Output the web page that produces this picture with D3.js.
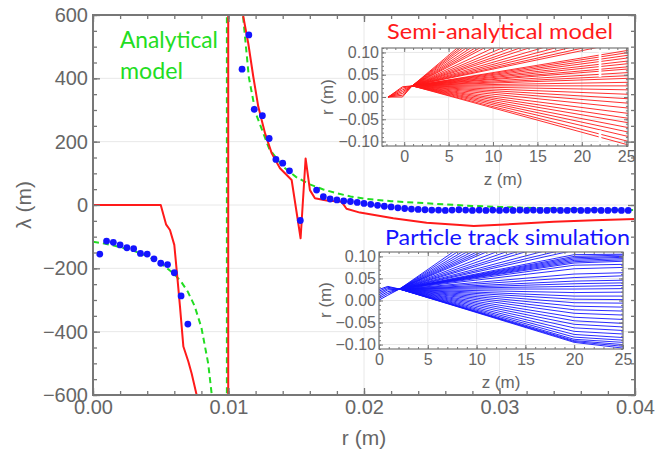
<!DOCTYPE html>
<html>
<head>
<meta charset="utf-8">
<script src="https://cdn.jsdelivr.net/npm/d3@7"></script>
<style>
body { margin: 0; background: #fff; }
svg text { font-family: "Liberation Sans", Arial, sans-serif; }
</style>
</head>
<body>
<div id="chart"></div>
<script>
// ---- main plot data (r in m, lambda in m) ----
var xTicks = [0, 0.01, 0.02, 0.03, 0.04];
var yTicks = [-600, -400, -200, 0, 200, 400, 600];

// semi-analytical model (red)
var redR = [0, 0.005, 0.00539, 0.00568, 0.0060, 0.00622, 0.00642, 0.00667, 0.00704, 0.00728, 0.00765, 0.0085, 0.00998,
  0.00998, 0.0109, 0.01107, 0.01146, 0.01183, 0.0122, 0.0127, 0.01319, 0.0138, 0.01466, 0.01532, 0.01569, 0.01601,
  0.01638, 0.01724, 0.01835, 0.01871, 0.0197, 0.02216, 0.02462, 0.02708, 0.0281, 0.031, 0.034, 0.037, 0.04];
var redLambda = [0, 0, -61, -79, -126, -226, -321, -447, -495, -532, -600, -850, -3000,
  3000, 900, 600, 510, 405, 310, 226, 163, 116, 79, -105, 147, 47,
  21, 14, 10, -12, -24, -42, -56, -63, -66, -60, -53, -48, -44];

// analytical model (green dashed)
var greenR = [0, 0.001, 0.002, 0.003, 0.004, 0.005, 0.006, 0.0065, 0.007, 0.0075, 0.008, 0.0085, 0.0088, 0.009, 0.0095, 0.00988,
  0.00988, 0.0105, 0.011, 0.0115, 0.012, 0.013, 0.014, 0.015, 0.016, 0.017, 0.018, 0.019, 0.02, 0.022, 0.024, 0.026,
  0.028, 0.03, 0.033, 0.036, 0.04];
var greenLambda = [-116, -123, -133, -145, -161, -184, -218, -242, -274, -319, -387, -500, -613, -726, -1400, -3000,
  3000, 1300, 630, 404, 291, 178, 122, 88, 65, 49, 37, 27, 20, 12, 7, 2,
  -3, -6, -10, -13, -16];

// particle track simulation (blue dots)
var dotR = [0.0005, 0.001, 0.0015, 0.002, 0.0025, 0.003, 0.0035, 0.004, 0.0045, 0.005, 0.0055, 0.006, 0.0065, 0.007,
  0.011, 0.0115, 0.0119, 0.0125, 0.013, 0.0135, 0.014, 0.0145, 0.0153, 0.0165, 0.017, 0.0175, 0.018,
  0.0185, 0.019, 0.0195, 0.02, 0.0205, 0.021, 0.0215, 0.022, 0.0225, 0.023, 0.0235, 0.024, 0.0245, 0.025,
  0.0255, 0.026, 0.0265, 0.027, 0.0275, 0.028, 0.0285, 0.029, 0.0295, 0.03, 0.0305, 0.031, 0.0315, 0.032,
  0.0325, 0.033, 0.0335, 0.034, 0.0345, 0.035, 0.0355, 0.036, 0.0365, 0.037, 0.0375, 0.038, 0.0385, 0.039, 0.0395];
var dotLambda = [-155, -114, -118, -126, -135, -138, -153, -155, -170, -184, -188, -214, -287, -376,
  429, 537, 302, 282, 210, 144, 132, 108, -49, 47, 26, 19, 16,
  13, 11, 8, 5, 2, -1, -4, -6, -9, -11, -13, -14, -15, -16,
  -16, -17, -16, -15, -16, -17, -16, -17, -16, -17, -16, -17, -16, -17,
  -16, -17, -17, -16, -17, -17, -16, -17, -17, -16, -17, -17, -16, -17, -17];

// ---- inset data (z in m, r in m) ----
var insetZTicks = [0, 5, 10, 15, 20, 25];
var insetRTicks = [-0.1, -0.05, 0, 0.05, 0.1];

// semi-analytical tracks: entry, focus, end r at z = 25.3
var semiStart = [-1.8, 0];
var semiEntryZ = -0.2;
var semiEntry = [0, 0.004, 0.008, 0.012, 0.016, 0.020, 0.023];
var semiFocus = [0.9, 0.025];
var semiEndZ = 25.3;
var semiEnd = [0.434, 0.411, 0.390, 0.366, 0.340, 0.318, 0.298, 0.281, 0.253, 0.230, 0.212, 0.196, 0.183, 0.167,
  0.154, 0.143, 0.133, 0.126, 0.105, 0.100, 0.094, 0.088, 0.081, 0.075, 0.068, 0.063, 0.055, 0.048, 0.042,
  0.033, 0.025, 0.016, 0.006, -0.004, -0.014, -0.025, -0.037, -0.048, -0.058, -0.069, -0.079, -0.089, -0.100, -0.108];
var semiGapZ = [21.9, 22.2];
var semiGapR = [[0.045, 0.12], [-0.12, -0.075]];

// particle tracks: entry r at z=0, r at z=0.9, focus, r at z=20 and z=25
var blueEntry = [0.001, 0.005, 0.009, 0.013, 0.017, 0.021, 0.025];
var blueMid = [0.012, 0.016, 0.020, 0.024, 0.027, 0.030, 0.032];
var blueFocus = [2.1, 0.026];
var blueR20 = [0.30, 0.28, 0.26, 0.244, 0.229, 0.216, 0.205, 0.195, 0.178, 0.164, 0.152, 0.143, 0.130, 0.121, 0.114,
  0.104, 0.1, 0.097, 0.094, 0.091, 0.088, 0.085, 0.08,
  0.072, 0.06, 0.052, 0.044, 0.038, 0.032, 0.026, 0.018, 0.01, 0.003, -0.005, -0.013, -0.021, -0.029, -0.038,
  -0.046, -0.054, -0.062, -0.07, -0.077, -0.083, -0.088, -0.091, -0.093, -0.095];
var blueR25 = [0.38, 0.35, 0.33, 0.31, 0.29, 0.27, 0.26, 0.25, 0.22, 0.20, 0.19, 0.18, 0.16, 0.15, 0.14,
  0.105, 0.103, 0.1, 0.098, 0.095, 0.092, 0.089, 0.082,
  0.075, 0.063, 0.056, 0.046, 0.04, 0.034, 0.027, 0.019, 0.01, 0.002, -0.006, -0.015, -0.024, -0.033, -0.043,
  -0.052, -0.06, -0.068, -0.076, -0.084, -0.09, -0.095, -0.1, -0.104, -0.108];

var gray = "#666", frameCol = "#777", gridCol = "#e8e8e8";
var red = "#ff1a1a", green = "#22dd22", blue = "#1414ff";

var svg = d3.select("#chart").append("svg")
    .attr("width", 670)
    .attr("height", 454);

var defs = svg.append("defs");
function clip(id, sx, sy) {
  defs.append("clipPath").attr("id", id).append("rect")
    .attr("x", sx.range()[0]).attr("y", sy.range()[1])
    .attr("width", sx.range()[1] - sx.range()[0])
    .attr("height", sy.range()[0] - sy.range()[1]);
}

// Mathematica-style frame with inward ticks on all four sides
function frameAxes(g, sx, sy, o) {
  var xb = sy.range()[0], xt = sy.range()[1], yl = sx.range()[0], yr = sx.range()[1];
  var parts = [
    [d3.axisBottom(sx).tickValues(o.xMinor).tickSize(-o.minor).tickFormat(""), "translate(0," + xb + ")"],
    [d3.axisBottom(sx).tickValues(o.xMajor).tickSize(-o.major).tickPadding(o.padX).tickFormat(o.xFmt), "translate(0," + xb + ")"],
    [d3.axisTop(sx).tickValues(o.xMinor).tickSize(-o.minor).tickFormat(""), "translate(0," + xt + ")"],
    [d3.axisTop(sx).tickValues(o.xMajor).tickSize(-o.major).tickFormat(""), "translate(0," + xt + ")"],
    [d3.axisLeft(sy).tickValues(o.yMinor).tickSize(-o.minor).tickFormat(""), "translate(" + yl + ",0)"],
    [d3.axisLeft(sy).tickValues(o.yMajor).tickSize(-o.major).tickPadding(o.padY).tickFormat(o.yFmt), "translate(" + yl + ",0)"],
    [d3.axisRight(sy).tickValues(o.yMinor).tickSize(-o.minor).tickFormat(""), "translate(" + yr + ",0)"],
    [d3.axisRight(sy).tickValues(o.yMajor).tickSize(-o.major).tickFormat(""), "translate(" + yr + ",0)"]
  ];
  parts.forEach(function(p) {
    var a = g.append("g").attr("transform", p[1]).call(p[0]);
    a.select(".domain").remove();
    a.selectAll(".tick line").attr("stroke", frameCol).attr("stroke-width", o.tickW);
    a.selectAll(".tick text").attr("fill", gray).style("font-size", o.fs + "px");
  });
  g.append("rect")
    .attr("x", yl).attr("y", xt)
    .attr("width", yr - yl).attr("height", xb - xt)
    .attr("fill", "none").attr("stroke", frameCol).attr("stroke-width", o.frameW);
}

function grid(g, sx, sy, xv, yv) {
  g.selectAll(".gx").data(xv).enter().append("line")
    .attr("x1", function(d) { return sx(d); }).attr("x2", function(d) { return sx(d); })
    .attr("y1", sy.range()[0]).attr("y2", sy.range()[1])
    .attr("stroke", gridCol).attr("stroke-width", 1);
  g.selectAll(".gy").data(yv).enter().append("line")
    .attr("x1", sx.range()[0]).attr("x2", sx.range()[1])
    .attr("y1", function(d) { return sy(d); }).attr("y2", function(d) { return sy(d); })
    .attr("stroke", gridCol).attr("stroke-width", 1);
}

// ================= main plot =================
var x = d3.scaleLinear().domain([0, 0.04]).range([93, 635]);
var y = d3.scaleLinear().domain([-600, 600]).range([395, 15]);
clip("clipMain", x, y);

grid(svg.append("g"), x, y, [0.01, 0.02, 0.03], [-400, -200, 0, 200, 400]);

var line = d3.line()
  .x(function(d) { return x(d[0]); })
  .y(function(d) { return y(d[1]); });

var plot = svg.append("g").attr("clip-path", "url(#clipMain)");

plot.append("path")
  .datum(greenR.map(function(r, i) { return [r, greenLambda[i]]; }))
  .attr("d", line)
  .attr("fill", "none")
  .attr("stroke", green)
  .attr("stroke-width", 2)
  .attr("stroke-dasharray", "6,4");

plot.append("path")
  .datum(redR.map(function(r, i) { return [r, redLambda[i]]; }))
  .attr("d", line)
  .attr("fill", "none")
  .attr("stroke", red)
  .attr("stroke-width", 2)
  .attr("stroke-linejoin", "round");

plot.selectAll(".dot")
  .data(dotR.map(function(r, i) { return [r, dotLambda[i]]; }))
  .enter()
  .append("circle")
    .attr("class", "dot")
    .attr("cx", function(d) { return x(d[0]); })
    .attr("cy", function(d) { return y(d[1]); })
    .attr("r", 3.4)
    .attr("fill", blue);

frameAxes(svg.append("g"), x, y, {
  xMajor: xTicks, xMinor: d3.range(0, 0.0401, 0.002),
  yMajor: yTicks, yMinor: d3.range(-600, 601, 50),
  xFmt: d3.format(".2f"), yFmt: d3.format("d"),
  major: 7, minor: 4, padX: 5, padY: 5, fs: 20, tickW: 1.3, frameW: 2
});

svg.append("text")
  .attr("transform", "translate(31,205) rotate(-90)")
  .attr("text-anchor", "middle")
  .attr("fill", gray)
  .style("font-size", "21px")
  .text("λ (m)");

svg.append("text")
  .attr("x", 364).attr("y", 445)
  .attr("text-anchor", "middle")
  .attr("fill", gray)
  .style("font-size", "21px")
  .text("r (m)");

svg.append("text")
  .attr("x", 120).attr("y", 48)
  .attr("fill", green)
  .style("font-family", "Lato, 'Open Sans', sans-serif")
  .style("font-size", "23px")
  .attr("textLength", 98).attr("lengthAdjust", "spacingAndGlyphs")
  .text("Analytical");
svg.append("text")
  .attr("x", 120).attr("y", 79)
  .attr("fill", green)
  .style("font-family", "Lato, 'Open Sans', sans-serif")
  .style("font-size", "23px")
  .attr("textLength", 63).attr("lengthAdjust", "spacingAndGlyphs")
  .text("model");

// ================= inset: semi-analytical =================
var zs = d3.scaleLinear().domain([-2.5, 25.2]).range([382, 628]);
var rs = d3.scaleLinear().domain([-0.11, 0.11]).range([146, 48]);
clip("clipSemi", zs, rs);

svg.append("rect")
  .attr("x", 382).attr("y", 48).attr("width", 246).attr("height", 98)
  .attr("fill", "#fff");
grid(svg.append("g"), zs, rs, insetZTicks, insetRTicks);

var sLine = d3.line()
  .x(function(d) { return zs(d[0]); })
  .y(function(d) { return rs(d[1]); });

var semi = svg.append("g").attr("clip-path", "url(#clipSemi)");
semi.selectAll(".pre")
  .data(semiEntry)
  .enter()
  .append("path")
    .attr("d", function(e) { return sLine([semiStart, [semiEntryZ, e], semiFocus]); })
    .attr("fill", "none").attr("stroke", red).attr("stroke-width", 1);
semi.selectAll(".fan")
  .data(semiEnd)
  .enter()
  .append("path")
    .attr("d", function(e) { return sLine([semiFocus, [semiEndZ, e]]); })
    .attr("fill", "none").attr("stroke", red).attr("stroke-width", 0.9);
semi.selectAll(".gap")
  .data(semiGapR)
  .enter()
  .append("rect")
    .attr("x", zs(semiGapZ[0])).attr("width", zs(semiGapZ[1]) - zs(semiGapZ[0]))
    .attr("y", function(d) { return rs(d[1]); })
    .attr("height", function(d) { return rs(d[0]) - rs(d[1]); })
    .attr("fill", "#fff");

var insetOpts = {
  xMajor: insetZTicks, xMinor: d3.range(-2, 26, 1),
  yMajor: insetRTicks, yMinor: d3.range(-0.11, 0.111, 0.01),
  xFmt: d3.format("d"), yFmt: d3.format(".2f"),
  major: 4, minor: 2, padX: 5, padY: 3, fs: 16, tickW: 1, frameW: 1.2
};
frameAxes(svg.append("g"), zs, rs, insetOpts);

svg.append("text")
  .attr("x", 503).attr("y", 185)
  .attr("text-anchor", "middle").attr("fill", gray)
  .style("font-size", "17px")
  .text("z (m)");
svg.append("text")
  .attr("transform", "translate(333,97) rotate(-90)")
  .attr("text-anchor", "middle").attr("fill", gray)
  .style("font-size", "17px")
  .text("r (m)");
svg.append("text")
  .attr("x", 387).attr("y", 39)
  .attr("fill", red)
  .style("font-family", "Lato, 'Open Sans', sans-serif")
  .style("font-size", "21px")
  .attr("textLength", 226).attr("lengthAdjust", "spacingAndGlyphs")
  .text("Semi-analytical model");

// ================= inset: particle tracks =================
var zb = d3.scaleLinear().domain([0, 25]).range([379, 623]);
var rb = d3.scaleLinear().domain([-0.11, 0.11]).range([349, 252]);
clip("clipPart", zb, rb);

svg.append("rect")
  .attr("x", 379).attr("y", 252).attr("width", 244).attr("height", 97)
  .attr("fill", "#fff");
grid(svg.append("g"), zb, rb, insetZTicks, insetRTicks);

var bLine = d3.line()
  .x(function(d) { return zb(d[0]); })
  .y(function(d) { return rb(d[1]); });

var part = svg.append("g").attr("clip-path", "url(#clipPart)");
part.selectAll(".pre")
  .data(blueEntry)
  .enter()
  .append("path")
    .attr("d", function(e, i) { return bLine([[0, e], [0.9, blueMid[i]], blueFocus]); })
    .attr("fill", "none").attr("stroke", blue).attr("stroke-width", 1);
part.selectAll(".fan")
  .data(blueR20)
  .enter()
  .append("path")
    .attr("d", function(e, i) { return bLine([blueFocus, [20, e], [25, blueR25[i]]]); })
    .attr("fill", "none").attr("stroke", blue).attr("stroke-width", 0.9);

frameAxes(svg.append("g"), zb, rb, Object.assign({}, insetOpts, { xMinor: d3.range(0, 26, 1) }));

svg.append("text")
  .attr("x", 501).attr("y", 388)
  .attr("text-anchor", "middle").attr("fill", gray)
  .style("font-size", "17px")
  .text("z (m)");
svg.append("text")
  .attr("transform", "translate(331,300) rotate(-90)")
  .attr("text-anchor", "middle").attr("fill", gray)
  .style("font-size", "17px")
  .text("r (m)");
svg.append("text")
  .attr("x", 385).attr("y", 245)
  .attr("fill", blue)
  .style("font-family", "Lato, 'Open Sans', sans-serif")
  .style("font-size", "21px")
  .attr("textLength", 245).attr("lengthAdjust", "spacingAndGlyphs")
  .text("Particle track simulation");
</script>
</body>
</html>
